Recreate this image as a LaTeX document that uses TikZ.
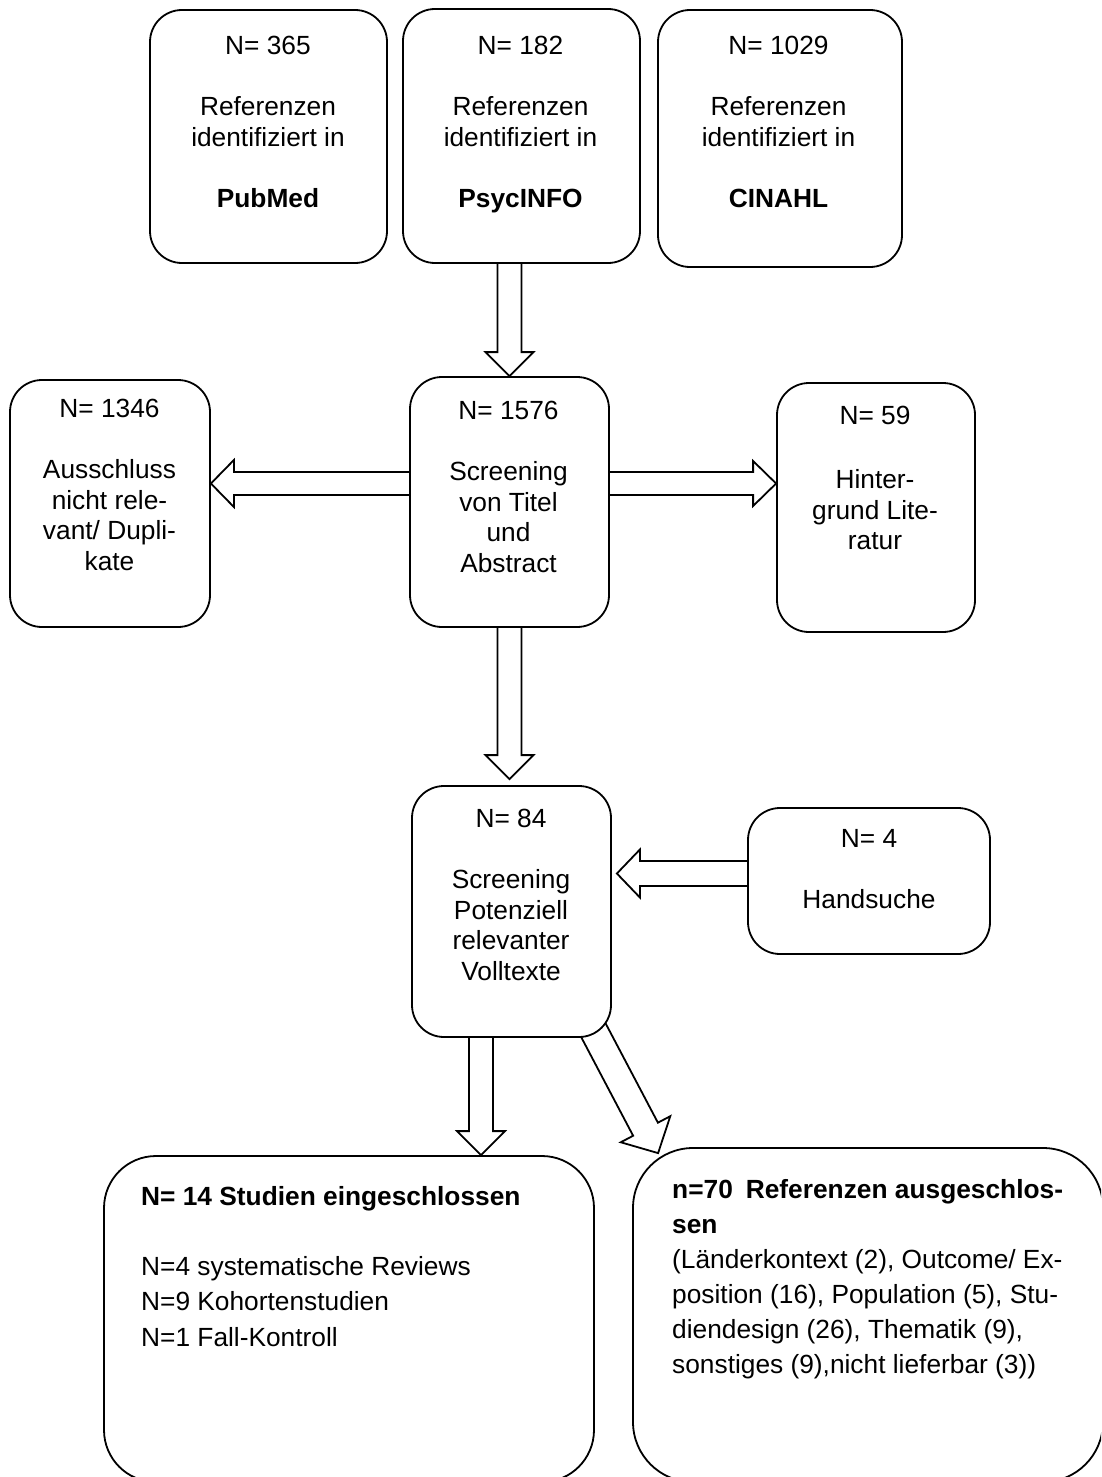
\documentclass[tikz,border=0pt]{standalone}
\usepackage{fontspec}
\setmainfont{Liberation Sans}
\usetikzlibrary{calc}
\pgfdeclarelayer{bg}
\pgfsetlayers{bg,main}

% block arrow from #1 to #2: half shaft width #3, half head width #4, head length #5
\newcommand\blockarr[5]{%
  \coordinate (ba-h) at ($(#2)!#5!(#1)$);
  \draw[blockarrow]
    ($(#1)!#3!90:(#2)$) -- ($(ba-h)!#3!90:(#2)$) -- ($(ba-h)!#4!90:(#2)$) --
    (#2) --
    ($(ba-h)!#4!-90:(#2)$) -- ($(ba-h)!#3!-90:(#2)$) -- ($(#1)!#3!-90:(#2)$);
}

\tikzset{
  frame/.style={draw, line width=1.8pt, fill=white, rounded corners=32pt, inner sep=0pt},
  bigframe/.style={frame, rounded corners=52pt},
  txtc/.style={anchor=north, inner sep=0pt, align=center,
    font=\fontsize{26.3pt}{30.4pt}\selectfont},
  txtl/.style={anchor=north west, inner sep=0pt, align=left,
    font=\fontsize{26.3pt}{35.3pt}\selectfont},
  blockarrow/.style={draw, line width=1.8pt, fill=white, line join=miter},
}

\begin{document}
\begin{tikzpicture}[x=1pt, y=-1pt]
\useasboundingbox (0,0) rectangle (1101,1477);
\clip (0,0) rectangle (1101,1477);

% database searches
\node[frame, minimum width=237pt, minimum height=253pt] (pubmed) at (268.5,136.5) {};
\node[txtc] (pubmed-txt) at (268,36) {N= 365\\[31pt]Referenzen\\identifiziert in\\[31pt]\textbf{PubMed}};

\node[frame, minimum width=237pt, minimum height=254pt] (psyc) at (521.5,136) {};
\node[txtc] (psyc-txt) at (520.5,36) {N= 182\\[31pt]Referenzen\\identifiziert in\\[31pt]\textbf{PsycINFO}};

\node[frame, minimum width=244pt, minimum height=257pt] (cinahl) at (780,138.5) {};
\node[txtc] (cinahl-txt) at (778.5,36) {N= 1029\\[31pt]Referenzen\\identifiziert in\\[31pt]\textbf{CINAHL}};

% title / abstract screening
\node[frame, minimum width=199pt, minimum height=250pt] (screen) at (509.5,502) {};
\node[txtc] (screen-txt) at (508.5,401) {N= 1576\\[31pt]Screening\\von Titel\\und\\Abstract};

\node[frame, minimum width=200pt, minimum height=247pt] (aus) at (110,503.5) {};
\node[txtc] (aus-txt) at (109.5,399) {N= 1346\\[31pt]Ausschluss\\nicht rele-\\vant/ Dupli-\\kate};

\node[frame, minimum width=198pt, minimum height=249pt] (hint) at (876,507.5) {};
\node[txtc] (hint-txt) at (875,406) {N= 59\\[34pt]Hinter-\\grund Lite-\\ratur};

% full text screening
\node[frame, minimum width=199pt, minimum height=251pt] (volltext) at (511.5,911.5) {};
\node[txtc] (volltext-txt) at (511,809) {N= 84\\[31pt]Screening\\Potenziell\\relevanter\\Volltexte};

\node[frame, minimum width=242pt, minimum height=146pt] (hand) at (869,881) {};
\node[txtc] (hand-txt) at (869,829) {N= 4\\[31pt]Handsuche};

% results
\node[bigframe, minimum width=490pt, minimum height=326pt] (incl) at (349,1319) {};
\node[txtl] (incl-txt) at (141,1186) {\textbf{N= 14 Studien eingeschlossen}\\[35pt]N=4 systematische Reviews\\N=9 Kohortenstudien\\N=1 Fall-Kontroll};

\node[bigframe, rounded corners=60pt, minimum width=470pt, minimum height=334pt] (excl) at (868,1315) {};
\node[txtl, font=\fontsize{26.3pt}{35pt}\selectfont] (excl-txt) at (672,1179) {\textbf{n=70\hspace{13pt}Referenzen ausgeschlos-}\\\textbf{sen}\\(Länderkontext (2), Outcome/ Ex-\\position (16), Population (5), Stu-\\diendesign (26), Thematik (9),\\sonstiges (9),nicht lieferbar (3))};

% connecting block arrows
\begin{pgfonlayer}{bg}
  \fill[white] (0,0) rectangle (1101,1477);
  \coordinate (a1s) at (screen.north |- psyc.south);
  \blockarr{a1s}{screen.north}{12pt}{24pt}{24pt}

  \coordinate (a2s) at ($(screen.west)+(0,-18.5)$);
  \coordinate (a2e) at (aus.east |- a2s);
  \blockarr{a2s}{a2e}{11.5pt}{23.5pt}{23pt}

  \coordinate (a3s) at ($(screen.east)+(0,-18.5)$);
  \coordinate (a3e) at (hint.west |- a3s);
  \blockarr{a3s}{a3e}{11.5pt}{22.5pt}{23pt}

  \coordinate (a4e) at ($(screen.south |- volltext.north)+(0,-6)$);
  \blockarr{screen.south}{a4e}{12pt}{24pt}{24pt}

  \coordinate (a5s) at ($(hand.west)+(0,-7.5)$);
  \coordinate (a5e) at ($(volltext.east |- a5s)+(5,0)$);
  \blockarr{a5s}{a5e}{12.5pt}{24pt}{23pt}

  \coordinate (a6s) at ($(volltext.south)+(-30.5,0)$);
  \coordinate (a6e) at (a6s |- incl.north);
  \blockarr{a6s}{a6e}{12pt}{24pt}{24pt}

  \coordinate (a7s) at ($(volltext.south east)+(-25,-20)$);
  \coordinate (a7e) at ($(excl.north west)+(26,6)$);
  \blockarr{a7s}{a7e}{14pt}{28pt}{27pt}
\end{pgfonlayer}
\end{tikzpicture}
\end{document}
